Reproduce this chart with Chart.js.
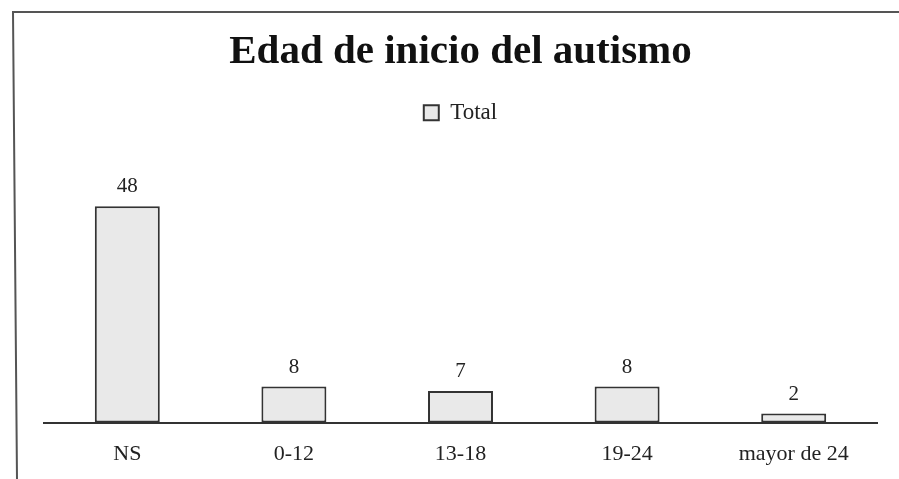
<!DOCTYPE html>
<html>
<head>
<meta charset="utf-8">
<script src="https://cdn.jsdelivr.net/npm/chart.js@4/dist/chart.umd.min.js"></script>
<style>
  html, body { margin: 0; padding: 0; background: #fff; }
  #wrap { position: relative; width: 899px; height: 479px; }
</style>
</head>
<body>
<div id="wrap"><canvas id="c" width="899" height="479"></canvas></div>
<script>
const categories = ["NS", "0-12", "13-18", "19-24", "mayor de 24"];
const totals = [48, 8, 7, 8, 2];
const seriesName = "Total";
const chartTitle = "Edad de inicio del autismo";

const SERIF = "'Liberation Serif', 'Times New Roman', serif";

// Page frame: rule along the top and down the left side
const framePlugin = {
  id: 'frame',
  beforeDraw(chart) {
    const ctx = chart.ctx;
    ctx.save();
    ctx.strokeStyle = '#555';
    ctx.lineWidth = 2;
    ctx.beginPath();
    ctx.moveTo(12, 12);
    ctx.lineTo(899, 12);
    ctx.moveTo(13, 12);
    ctx.lineTo(17, 479);
    ctx.stroke();
    ctx.restore();
  }
};

// Value printed above each bar
const valueLabels = {
  id: 'valueLabels',
  afterDatasetsDraw(chart) {
    const ctx = chart.ctx;
    ctx.save();
    ctx.font = '21px ' + SERIF;
    ctx.fillStyle = '#222';
    ctx.textAlign = 'center';
    ctx.textBaseline = 'bottom';
    chart.data.datasets.forEach((ds, i) => {
      chart.getDatasetMeta(i).data.forEach((bar, j) => {
        ctx.fillText(String(ds.data[j]), bar.x, bar.y - 9);
      });
    });
    ctx.restore();
  }
};

new Chart(document.getElementById('c'), {
  type: 'bar',
  data: {
    labels: categories,
    datasets: [{
      label: seriesName,
      data: totals,
      backgroundColor: '#e9e9e9',
      borderColor: '#333',
      borderWidth: 2,
      borderSkipped: false,
      categoryPercentage: 1,
      barPercentage: 0.39
    }]
  },
  options: {
    responsive: false,
    animation: false,
    layout: { padding: { left: 44, right: 22, top: 0, bottom: -6 } },
    plugins: {
      title: {
        display: true,
        text: chartTitle,
        color: '#111',
        font: { family: SERIF, size: 41, weight: 'bold' },
        padding: { top: 28, bottom: 14 }
      },
      legend: {
        display: true,
        labels: {
          color: '#222',
          font: { family: SERIF, size: 23 },
          boxWidth: 15,
          boxHeight: 15,
          padding: 10
        }
      },
      tooltip: { enabled: false }
    },
    scales: {
      x: {
        grid: { display: false, drawTicks: false },
        border: { display: true, color: '#333', width: 2 },
        ticks: {
          color: '#222',
          font: { family: SERIF, size: 22 },
          padding: 18
        }
      },
      y: {
        display: false,
        min: 0,
        max: 64
      }
    }
  },
  plugins: [framePlugin, valueLabels]
});
</script>
</body>
</html>
